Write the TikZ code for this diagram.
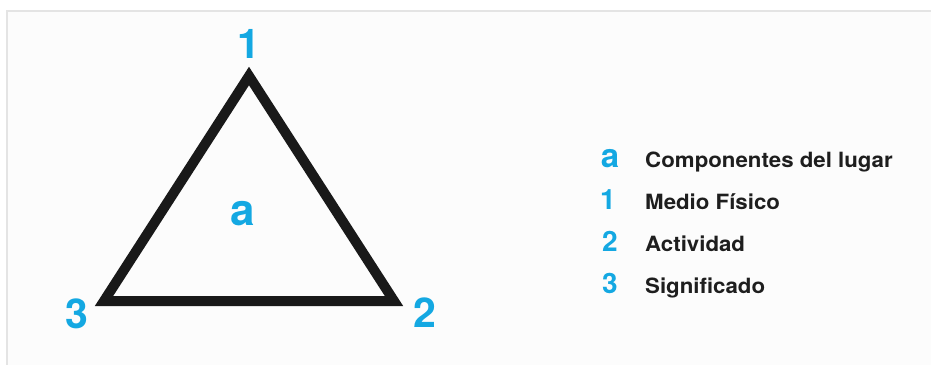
\documentclass[tikz,border=0pt]{standalone}
\usepackage{fontspec}
\setmainfont{TeX Gyre Heros}
\newfontfamily\keyfont[FakeStretch=1.06]{TeX Gyre Heros}
\usepackage{tikz}
\usetikzlibrary{positioning}

\definecolor{labelblue}{RGB}{20,168,226}
\definecolor{textdark}{RGB}{30,30,30}
\definecolor{framegray}{RGB}{228,228,228}

\tikzset{
  corner/.style={font=\fontsize{41}{41}\selectfont\bfseries, text=labelblue, inner sep=0pt, anchor=base},
  keysym/.style={font=\fontsize{28}{28}\selectfont\bfseries, text=labelblue, inner sep=0pt, anchor=base},
  keytext/.style={font=\keyfont\fontsize{21}{21}\selectfont\bfseries, text=textdark, inner sep=0pt, anchor=base west}
}

\begin{document}
\begin{tikzpicture}[x=1pt, y=1pt]
        \useasboundingbox (0,0) rectangle (931,365);
        % Frame
        \fill[white] (0,0) rectangle (931,365);
        \fill[black!1] (7,0) rectangle (931,354);
        \draw[framegray, line width=1.5pt] (7,0) -- (7,354) -- (931,354);

        % Triangle
        \coordinate (p1) at (249,289);
        \coordinate (p2) at (394,64);
        \coordinate (p3) at (104,64);
        \draw[line width=10pt, line join=miter, black!90] (p1) -- (p2) -- (p3) -- cycle;

        % Labels
        \node[corner] (n1) at (249,306) {1};
        \node[corner] (n2) at (425,38) {2};
        \node[corner] (n3) at (77,37) {3};
        \node[corner, font=\fontsize{44}{44}\selectfont\bfseries] (na) at (243,140) {a};

        % Legend
        \node[keysym, font=\fontsize{33}{33}\selectfont\bfseries] (ka) at (610,198) {a};
        \node[keysym] (k1) at (608,156) {1};
        \node[keysym] (k2) at (610,114) {2};
        \node[keysym] (k3) at (610,72) {3};
        \node[keytext] (ta) at (645,198) {Componentes del lugar};
        \node[keytext] (t1) at (645,156) {Medio Físico};
        \node[keytext] (t2) at (645,114) {Actividad};
        \node[keytext] (t3) at (645,72) {Significado};
      \end{tikzpicture}
\end{document}
